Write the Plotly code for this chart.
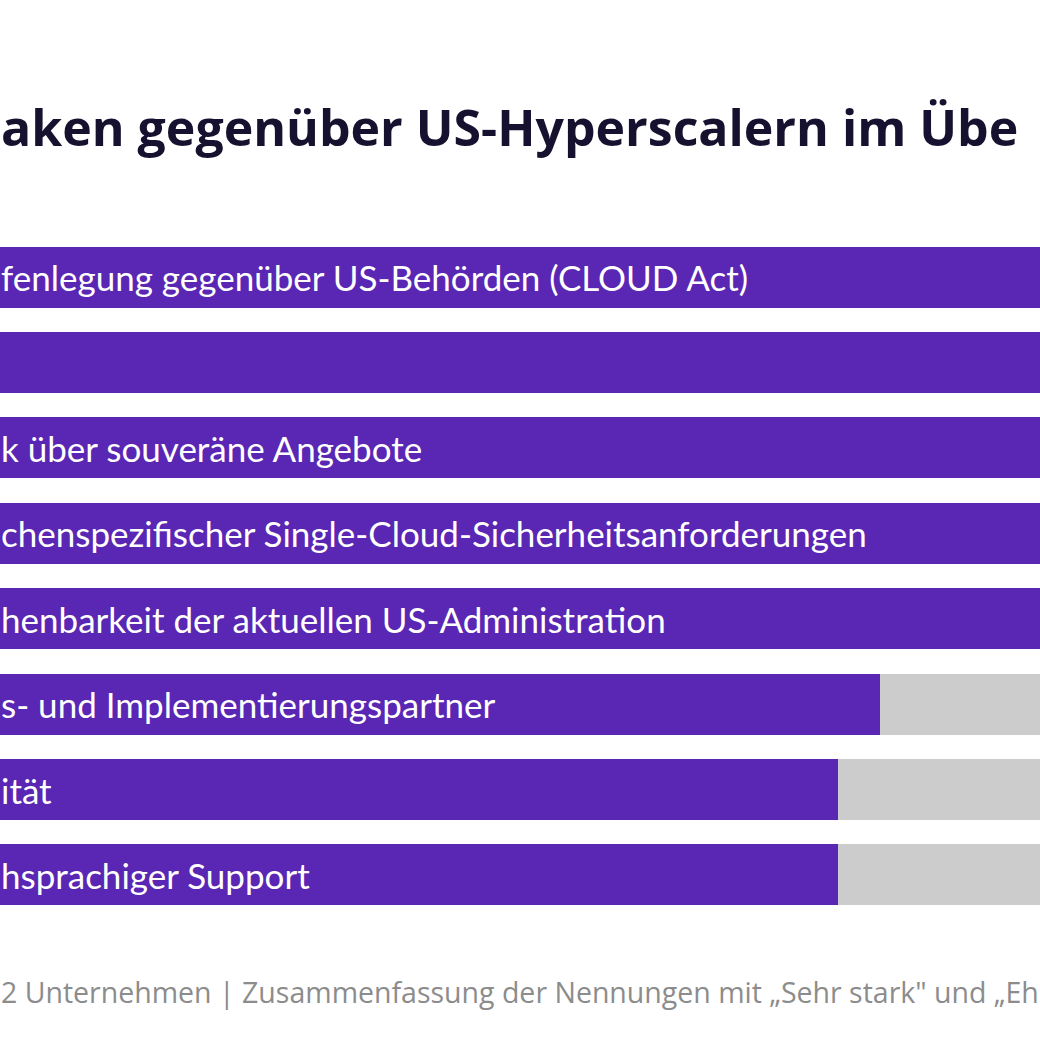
import plotly.graph_objects as go

categories = ["A", "B", "C", "D", "E", "F", "G", "H"]
labels = [
    "fenlegung gegenüber US-Behörden (CLOUD Act)",
    "",
    "k über souveräne Angebote",
    "chenspezifischer Single-Cloud-Sicherheitsanforderungen",
    "henbarkeit der aktuellen US-Administration",
    "s- und Implementierungspartner",
    "ität",
    "hsprachiger Support",
]
values = [95, 94, 93, 93, 93, 81, 78, 78]
rest = [100 - v for v in values]

title_text = "aken gegenüber US-Hyperscalern im Übe"
footer_text = "2 Unternehmen | Zusammenfassung der Nennungen mit „Sehr stark\" und „Eh"

PURPLE = "#5A26B4"
GRAY = "#CCCCCC"

fig = go.Figure()
fig.add_trace(go.Bar(y=categories, x=values, orientation="h",
                     marker=dict(color=PURPLE, line=dict(width=0)), width=0.714,
                     hoverinfo="skip"))
fig.add_trace(go.Bar(y=categories, x=rest, orientation="h",
                     marker=dict(color=GRAY, line=dict(width=0)), width=0.714,
                     hoverinfo="skip"))

annotations = []
for c, t in zip(categories, labels):
    if t:
        annotations.append(dict(x=0.0, xref="paper", y=c, yref="y", text=t,
                                showarrow=False, xanchor="left", yanchor="middle",
                                borderpad=0,
                                font=dict(family="Lato", size=35, color="white")))
annotations.append(dict(x=0.0, xref="paper", y=1 - 127 / 1040, yref="paper",
                        text=title_text, showarrow=False, borderpad=0,
                        xanchor="left", yanchor="middle",
                        font=dict(family="Open Sans", size=50, weight=700, color="#15112E")))
annotations.append(dict(x=0.0, xref="paper", y=1 - 992 / 1040, yref="paper",
                        text=footer_text, showarrow=False, borderpad=0,
                        xanchor="left", yanchor="middle",
                        font=dict(family="Open Sans", size=28.5, color="#8C8C8C")))

fig.update_layout(
    width=1040, height=1040,
    margin=dict(l=0, r=0, t=0, b=0),
    paper_bgcolor="white", plot_bgcolor="white",
    barmode="stack", showlegend=False,
    xaxis=dict(range=[18.14, 92.43], visible=False, fixedrange=True),
    yaxis=dict(autorange="reversed", visible=False, domain=[0.1176, 0.7747],
               fixedrange=True),
    annotations=annotations,
)

fig.write_html("out.html")
